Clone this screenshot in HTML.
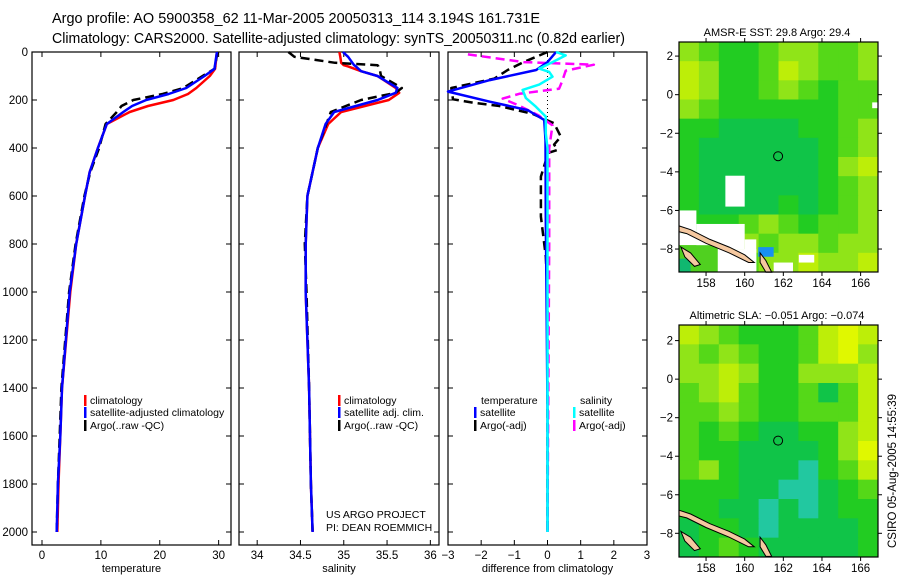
<!DOCTYPE html>
<html><head><meta charset="utf-8"><style>
body{margin:0;background:#fff;}
svg{display:block;font-family:"Liberation Sans",sans-serif;}
</style></head><body>
<svg id="c" width="900" height="580" xmlns="http://www.w3.org/2000/svg">
<text x="52" y="23" font-size="14.5" textLength="488" lengthAdjust="spacingAndGlyphs">Argo profile: AO 5900358_62 11-Mar-2005 20050313_114 3.194S 161.731E</text>
<text x="52" y="43" font-size="14.5" textLength="573" lengthAdjust="spacingAndGlyphs">Climatology: CARS2000. Satellite-adjusted climatology: synTS_20050311.nc (0.82d earlier)</text>
<g id="g"></g>
</svg>
<script>
// ---------- profile data ----------
const depthT=[0,70,100,150,175,200,225,250,300,400,500,600,800,1000,1400,1600,1800,2000];
const tempClim=[29.7,29.4,28.5,26.2,24.8,22.3,18,14.9,11,9.5,8.1,7.3,5.8,4.8,3.4,3.1,2.8,2.6];
const tempSat=[29.7,29.3,27.6,24.5,21.5,17.7,15.3,13.8,11,9.5,8.1,7.3,5.8,4.7,3.4,3.1,2.7,2.5];
const tempArgo=[29.8,29.3,27.3,24.0,20.5,15.5,13.5,12.7,10.8,9.7,8.2,7.2,5.7,4.6,3.3,3.0,2.7,2.5];
const depthS=[0,20,45,55,60,80,100,150,170,200,250,300,400,500,600,800,1000,1400,1600,1800,2000];
const salClim=[34.95,34.96,34.97,35.0,35.05,35.2,35.39,35.6,35.64,35.52,34.97,34.82,34.7,34.64,34.58,34.56,34.56,34.6,34.61,34.62,34.64];
const salSat=[34.99,35.05,35.1,35.12,35.14,35.2,35.39,35.62,35.6,35.39,34.89,34.79,34.7,34.64,34.58,34.56,34.56,34.6,34.61,34.62,34.64];
const salArgo=[34.36,34.43,34.9,35.39,35.4,35.42,35.43,35.67,35.6,35.2,34.85,34.8,34.7,34.64,34.58,34.55,34.57,34.6,34.61,34.62,34.64];
// difference panel
const dDepth1=[0,42,75,117,165,207,242,283,367,700,1000,1500,2000];
const dTempSat=[0.26,0.0,-0.34,-1.74,-3.0,-1.74,-0.6,-0.1,-0.06,-0.05,-0.03,0,0];
const dDepth2=[0,42,75,111,150,197,212,225,258,297,353,386,408,419,453,519,686,853,1000,2000];
const dTempArgo=[0.0,-0.72,-1.2,-1.6,-2.9,-2.85,-2.2,-1.45,-0.45,0.2,0.4,0.2,0.3,0.05,-0.05,-0.2,-0.2,-0.05,0,0];
const dDepth3=[0,14,42,69,83,103,136,158,192,228,269,339,400,2000];
const dSalSat=[0.26,0.55,0.15,-0.25,0.05,0.15,-0.25,-0.75,-0.65,-0.35,-0.05,-0.05,0,0];
const dDepth4=[10,42,53,78,119,153,174,194,222,264,306,400,800,2000];
const dSalArgo=[-2.4,-0.72,1.4,0.55,0.45,0.35,-0.85,-1.35,-0.88,-0.27,0.15,0.05,0.05,0.0];
// map grids (10 cols lon 156.6..166.9, 12 rows lat 2.8..-9.2), 0=teal..6=yellow
const sstGrid=[
[4,3,2,2,3,4,4,3,3,4],[5,4,2,2,3,5,4,3,3,4],[5,4,2,2,3,4,3,2,3,3],[4,3,2,2,2,2,2,2,3,3],
[2,2,1,1,1,1,2,2,3,4],[2,1,1,1,1,1,1,2,3,4],[2,1,1,1,1,1,1,2,4,5],[2,1,1,1,1,1,1,2,3,4],
[2,1,1,1,1,2,1,2,3,4],[2,2,2,3,4,3,2,3,3,4],[3,3,3,4,3,4,4,3,4,4],[3,3,4,3,4,4,5,4,4,5]];
const slaGrid=[
[5,4,3,2,2,2,3,5,6,5],[4,3,4,3,2,2,3,5,6,4],[4,4,5,4,2,2,4,4,4,5],[3,4,5,3,2,2,3,1,3,5],
[3,3,4,3,2,2,3,3,3,5],[3,2,3,2,1,1,2,2,4,5],[3,2,2,1,1,1,1,2,4,6],[3,4,2,1,1,1,0,2,3,5],
[2,2,2,1,1,0,0,1,2,3],[2,2,1,1,0,1,0,1,2,2],[1,2,2,1,0,1,1,1,1,2],[1,2,3,2,1,1,1,1,1,2]];
const palette=["#22c8a0","#10c448","#22cc22","#55d818","#90e418","#bdee08","#e0f800"];
const lonTicks=[158,160,162,164,166];
const latTicks=[2,0,-2,-4,-6,-8];
const argoLon=161.73, argoLat=-3.19;

const NS="http://www.w3.org/2000/svg";
const G=document.getElementById('g');
function el(t,a,p){const e=document.createElementNS(NS,t);for(const k in a)e.setAttribute(k,a[k]);(p||G).appendChild(e);return e;}
function txt(x,y,s,size,anchor,p){const e=el('text',{x:x,y:y,'font-size':size,'text-anchor':anchor||'start'},p);e.textContent=s;return e;}

const Y0=52, YS=0.24, TOP=52, BOT=545;
const yD=d=>Y0+d*YS;
function panel(name,x0,x1,xmin,xmax,ticks,tickLabels,title,depthLabels){
  const g=el('g',{});
  
  
  const xs=v=>x0+(v-xmin)/(xmax-xmin)*(x1-x0);
  const r=el('rect',{x:x0,y:TOP,width:x1-x0,height:BOT-TOP,fill:'none',stroke:'#000','stroke-width':1.2},g);
  
  
  ticks.forEach((t,i)=>{const x=xs(t);
    el('line',{x1:x,x2:x,y1:TOP,y2:TOP+5,stroke:'#000'},g);
    el('line',{x1:x,x2:x,y1:BOT,y2:BOT-5,stroke:'#000'},g);
    const l=txt(x,559,tickLabels[i],11.5,'middle',g);
    
    
  });
  for(let d=0;d<=2000;d+=200){const y=yD(d);
    el('line',{x1:x0,x2:x0+5,y1:y,y2:y,stroke:'#000'},g);
    el('line',{x1:x1,x2:x1-5,y1:y,y2:y,stroke:'#000'},g);
    if(depthLabels){const l=txt(28,y+4,String(d),11.5,'end',g);
      
      }
  }
  const t=txt((x0+x1)/2,572,title,11,'middle',g);
  
  
  return {g,xs};
}
function line(p,xsArr,ds,color,w,dash,name){
  const pts=xsArr.map((v,i)=>p.xs(v).toFixed(1)+','+yD(ds[i]).toFixed(1)).join(' ');
  const e=el('polyline',{points:pts,fill:'none',stroke:color,'stroke-width':w,'stroke-linejoin':'round'},p.g);
  if(dash)e.setAttribute('stroke-dasharray',dash);
  
  
}
function legend(p,x,y,color,label){
  el('rect',{x:x,y:y-9,width:2.5,height:11,fill:color},p.g);
  const t=txt(x+6,y,label,10.5,'start',p.g);
  
  
}
// panel 1
const p1=panel('temperature-panel',32,231,-1.7,32.1,[0,10,20,30],['0','10','20','30'],'temperature',true);
line(p1,tempClim,depthT,'#f00',2.5,null,'temp-climatology-line');
line(p1,tempArgo,depthT,'#000',2.5,'9,5','temp-argo-line');
line(p1,tempSat,depthT,'#00f',2.5,null,'temp-satellite-line');
legend(p1,84,404,'#f00','climatology');legend(p1,84,416,'#00f','satellite-adjusted climatology');legend(p1,84,429,'#000','Argo(..raw -QC)');
// panel 2
const p2=panel('salinity-panel',239,439,33.79,36.1,[34,34.5,35,35.5,36],['34','34.5','35','35.5','36'],'salinity',false);
line(p2,salClim,depthS,'#f00',2.5,null,'sal-climatology-line');
line(p2,salArgo,depthS,'#000',2.5,'9,5','sal-argo-line');
line(p2,salSat,depthS,'#00f',2.5,null,'sal-satellite-line');
legend(p2,338,404,'#f00','climatology');legend(p2,338,416,'#00f','satellite adj. clim.');legend(p2,338,429,'#000','Argo(..raw -QC)');
let t1=txt(326,518,'US ARGO PROJECT',10.5,'start',p2.g);
let t2=txt(326,531,'PI: DEAN ROEMMICH',10.5,'start',p2.g);
// panel 3
const p3=panel('difference-panel',448,647,-3,3,[-3,-2,-1,0,1,2,3],['\u22123','\u22122','\u22121','0','1','2','3'],'difference from climatology',false);
el('line',{x1:p3.xs(0),x2:p3.xs(0),y1:TOP,y2:yD(300),stroke:'#000','stroke-dasharray':'1,3'},p3.g);
line(p3,dTempArgo,dDepth2,'#000',2.5,'9,5','diff-temp-argo-line');
line(p3,dSalArgo,dDepth4,'#f0f',2.5,'9,5','diff-sal-argo-line');
line(p3,dTempSat,dDepth1,'#00f',2.5,null,'diff-temp-satellite-line');
line(p3,dSalSat,dDepth3,'#0ff',2.5,null,'diff-sal-satellite-line');
let t3=txt(481,404,'temperature',10.5,'start',p3.g);
let t4=txt(580,404,'salinity',10.5,'start',p3.g);
legend(p3,474,416,'#00f','satellite');legend(p3,474,429,'#000','Argo(-adj)');
legend(p3,573,416,'#0ff','satellite');legend(p3,573,429,'#f0f','Argo(-adj)');

// ---------- maps ----------
function map(name,top,bottom,grid,title,latTop,latBot,extra){
  const g=el('g',{});
  
  
  const L=679,R=878,lonMin=156.6,lonMax=166.9;
  const xs=v=>L+(v-lonMin)/(lonMax-lonMin)*(R-L);
  const ys=v=>top+(latTop-v)/(latTop-latBot)*(bottom-top);
  const rows=grid.length, cols=grid[0].length;
  const cw=(lonMax-lonMin)/cols, ch=(latTop-latBot)/rows;
  grid.forEach((row,ri)=>row.forEach((v,ci)=>{
    const x=xs(lonMin+ci*cw), y=ys(latTop-ri*ch);
    const c=el('rect',{x:x,y:y,width:xs(lonMin+(ci+1)*cw)-x+0.5,height:ys(latTop-(ri+1)*ch)-y+0.5,fill:palette[v]},g);
    
    
  }));
  extra(g,xs,ys);
  const poly=(pts,fill)=>{const e=el('polygon',{points:pts.map(p=>xs(p[0]).toFixed(1)+','+ys(p[1]).toFixed(1)).join(' '),fill:fill,stroke:'#000','stroke-width':1},g);};
  poly([[156.6,-6.8],[157.2,-7.0],[158.2,-7.5],[159.2,-7.9],[160.0,-8.3],[160.5,-8.7],[160.2,-8.7],[159.2,-8.2],[158.0,-7.7],[157.0,-7.2],[156.6,-7.1]],'#f5c8a0');
  poly([[160.8,-8.2],[161.1,-8.6],[161.4,-9.2],[161.1,-9.2],[160.8,-8.7]],'#f5c8a0');
  poly([[156.7,-7.9],[157.2,-8.2],[157.7,-8.8],[157.4,-8.9],[156.9,-8.4]],'#f5c8a0');
  const r=el('rect',{x:L,y:top,width:R-L,height:bottom-top,fill:'none',stroke:'#000','stroke-width':1.2},g);
  
  
  lonTicks.forEach(t=>{const x=xs(t);el('line',{x1:x,x2:x,y1:top,y2:top-4,stroke:'#000'},g);el('line',{x1:x,x2:x,y1:bottom,y2:bottom+4,stroke:'#000'},g);
    const l=txt(x,bottom+15,String(t),11.5,'middle',g);});
  latTicks.forEach(t=>{const y=ys(t);el('line',{x1:L,x2:L-4,y1:y,y2:y,stroke:'#000'},g);el('line',{x1:R,x2:R+4,y1:y,y2:y,stroke:'#000'},g);
    const l=txt(673,y+4,t<0?'\u2212'+(-t):String(t),11.5,'end',g);});
  const c=el('circle',{cx:xs(argoLon),cy:ys(argoLat),r:4.5,fill:'none',stroke:'#000','stroke-width':1},g);
  
  
  const tt=txt(777,top-6,title,11,'middle',g);
  
  
}
map('sst-map',42,272,sstGrid,'AMSR-E SST: 29.8 Argo: 29.4',2.73,-9.19,(g,xs,ys)=>{
  const w=(a,b,c,d,f)=>{const e=el('rect',{x:xs(a),y:ys(b),width:xs(c)-xs(a),height:ys(d)-ys(b),fill:f},g);};
  w(159.0,-4.2,160.0,-5.8,'#fff');
  w(156.6,-6.0,157.5,-7.2,'#fff');w(157.5,-6.7,160.0,-8.0,'#fff');w(158.6,-8.0,160.6,-9.2,'#fff');
  w(160.0,-7.5,160.6,-9.2,'#fff');w(156.6,-7.2,158.5,-7.8,'#fff');
  w(156.6,-7.8,158.6,-9.2,'#50d020');w(156.6,-8.5,157.2,-9.2,'#10b870');
  w(160.7,-7.9,161.5,-8.4,'#1890f0');w(162.8,-8.3,163.6,-8.7,'#fff');w(161.5,-8.7,162.5,-9.2,'#fff');
  w(166.6,-0.4,166.9,-0.7,'#fff');
});
map('sla-map',325,557,slaGrid,'Altimetric SLA: \u22120.051 Argo: \u22120.074',2.81,-9.23,()=>{});
const ts=txt(0,0,'CSIRO 05-Aug-2005 14:55:39',11.5,'middle');
ts.setAttribute('transform','translate(896,471) rotate(-90)');


</script>
</body></html>
